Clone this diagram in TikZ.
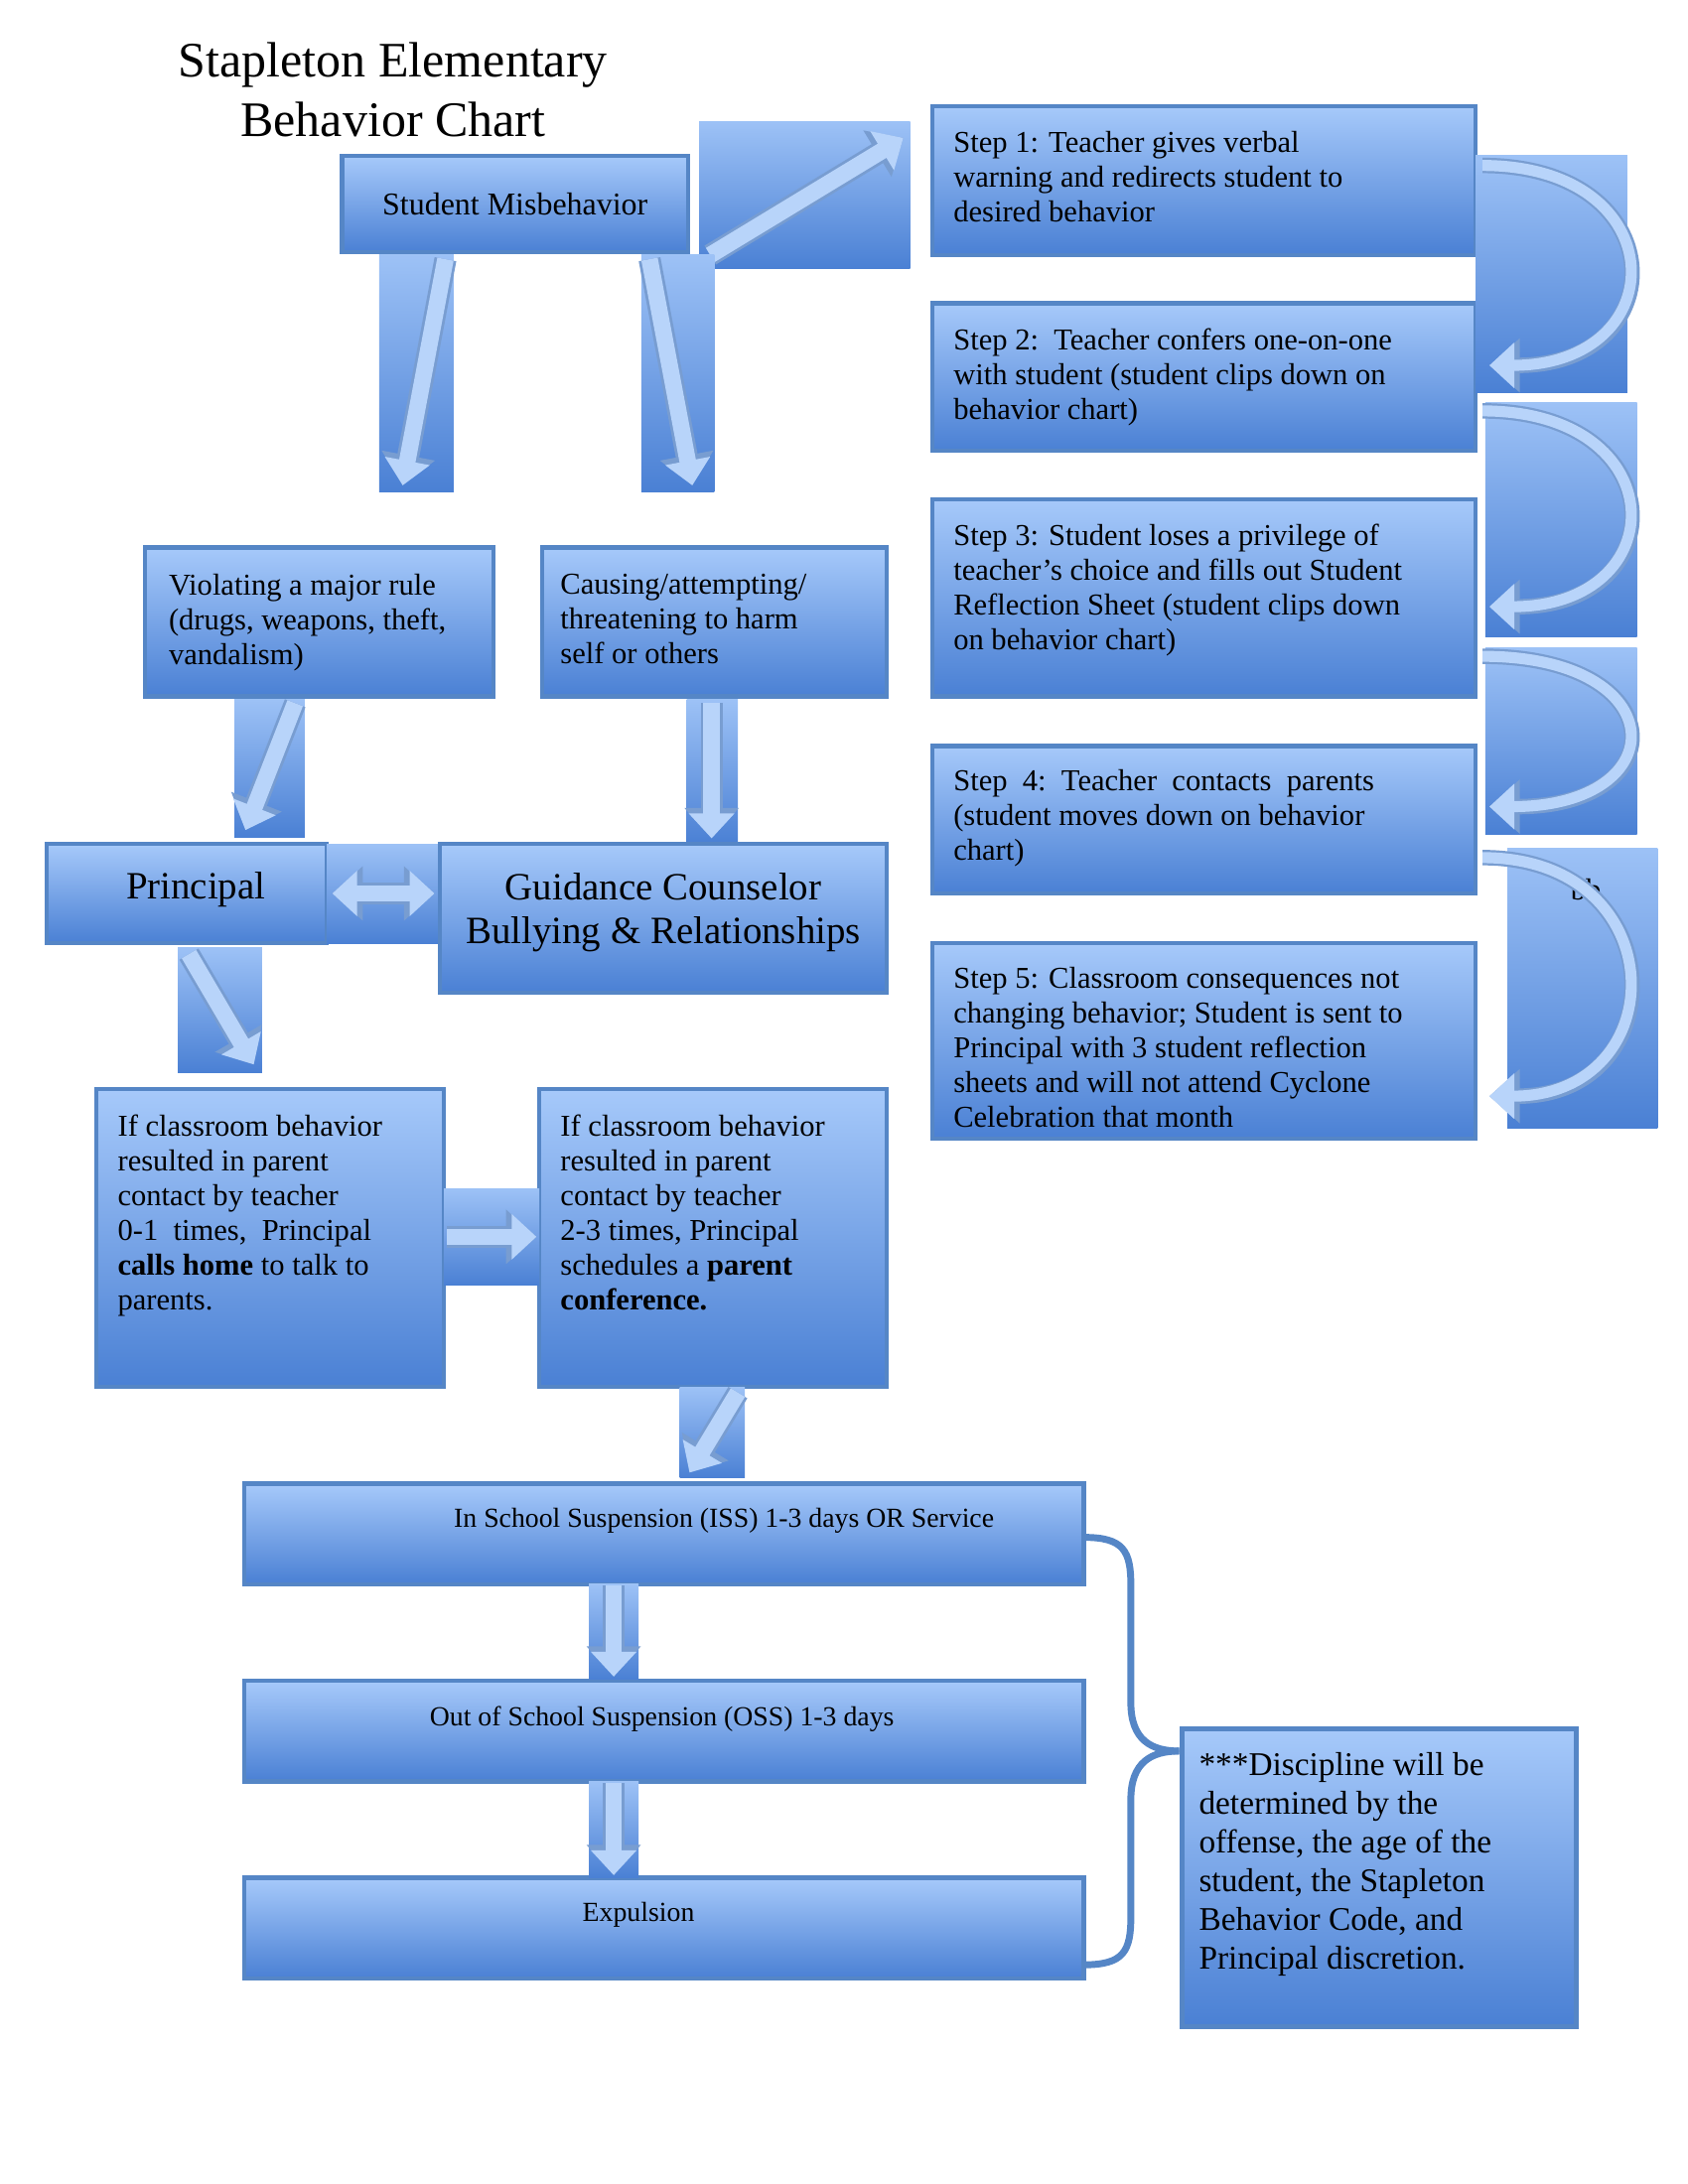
\documentclass[tikz,border=0pt]{standalone}
\usepackage{fontspec}
\setmainfont{Liberation Serif}
\usetikzlibrary{arrows.meta}
\definecolor{btop}{HTML}{A6C9FA}
\definecolor{bbot}{HTML}{4A80D4}
\definecolor{bline}{HTML}{5586C6}
\definecolor{glyph}{HTML}{B8D4FA}
\definecolor{glyphline}{HTML}{3E73BE}
\tikzset{
 box/.style={draw=bline,line width=1.6pt,top color=btop,bottom color=bbot,inner sep=0pt},
 blk/.style={top color=btop!90!bbot,bottom color=bbot,draw=none,inner sep=0pt},
 txt/.style={anchor=north west,inner sep=0pt,align=left,font=\fontsize{11}{12.6}\selectfont},
 garrow/.style={line width=6pt,draw=glyph,-{Triangle[length=9pt,width=16pt]}},
 garrowb/.style={line width=8pt,draw=glyphline!70,-{Triangle[length=11pt,width=19pt]}},
 curv/.style={line width=4pt,draw=glyph,-{Triangle[length=9pt,width=16pt]}},
 curvb/.style={line width=5.6pt,draw=glyphline!70,-{Triangle[length=11pt,width=19pt]}},
}
\newcommand\bx[6][box]{\node[#1,minimum width={(#5-#3)*0.5pt},minimum height={(#6-#4)*0.5pt}] (#2) at ({(#3+#5)/2},{(#4+#6)/2}) {};}
\newcommand\ga[2]{\draw[garrowb] (#1) -- (#2); \draw[garrow] (#1) -- (#2);}
\begin{document}
\begin{tikzpicture}[x=0.5pt,y=-0.5pt]
\useasboundingbox (0,0) rectangle (1224,1584);
\fill[white] (0,0) rectangle (1224,1584);
\node[align=center,font=\fontsize{18}{21.5}\selectfont] (title) at (285,65) {Stapleton Elementary\\Behavior Chart};
% main boxes
\bx{sm}{248}{113}{499}{183}
\node[font=\fontsize{11.5}{13}\selectfont] (smt) at (sm) {Student Misbehavior};
\bx[blk]{a0}{507}{88}{660}{195}
\coordinate (a0s) at (515,185); \coordinate (a0e) at (655,100);
\ga{a0s}{a0e}
\bx{s1}{676}{77}{1070}{185}
\bx{s2}{676}{220}{1070}{327}
\bx{s3}{676}{362}{1070}{505}
\bx{s4}{676}{541}{1070}{648}
\bx{s5}{676}{684}{1070}{826}
\node[txt] (s1t) at (691,95) {Step 1: Teacher gives verbal\\warning and redirects student to\\desired behavior};
\node[txt] (s2t) at (691,238) {Step 2:\ \ Teacher confers one-on-one\\with student (student clips down on\\behavior chart)};
\node[txt] (s3t) at (691,380) {Step 3: Student loses a privilege of\\teacher’s choice and fills out Student\\Reflection Sheet (student clips down\\on behavior chart)};
\node[txt] (s4t) at (691,558) {Step\ \ 4:\ \ Teacher\ \ contacts\ \ parents\\(student moves down on behavior\\chart)};
\node[txt] (s5t) at (691,701) {Step 5: Classroom consequences not\\changing behavior; Student is sent to\\Principal with 3 student reflection\\sheets and will not attend Cyclone\\Celebration that month};
% right curved blocks
\bx[blk]{c1}{1070}{113}{1180}{285}
\bx[blk]{c2}{1077}{292}{1187}{462}
\bx[blk]{c3}{1077}{470}{1187}{605}
\bx[blk]{c4}{1093}{615}{1202}{818}
\node[font=\fontsize{11}{13}\selectfont] (bb) at (1150,645) {bb};
\foreach \n/\ya/\yb in {c1/120/265,c2/298/440,c3/476/585,c4/622/795}{
 \coordinate (\n s) at (1075,\ya); \coordinate (\n e) at (1080,\yb);
 \draw[curvb] (\n s) .. controls (1215,\ya) and (1215,\yb) .. (\n e);
 \draw[curv] (\n s) .. controls (1215,\ya) and (1215,\yb) .. (\n e);
}
% down arrows from student misbehavior
\bx[blk]{d1}{275}{185}{329}{357}
\bx[blk]{d2}{465}{185}{518}{357}
\coordinate (d1s) at (323,188); \coordinate (d1e) at (292,352);
\coordinate (d2s) at (471,188); \coordinate (d2e) at (502,352);
\ga{d1s}{d1e} \ga{d2s}{d2e}
\bx{v}{105}{397}{358}{505}
\bx{g}{393}{397}{643}{505}
\node[txt] (vt) at (122,416) {Violating a major rule\\(drugs, weapons, theft,\\vandalism)};
\node[txt] (gt) at (406,416) {Causing/attempting/\\threatening to harm\\self or others};
\bx[blk]{d3}{170}{507}{221}{607}
\bx[blk]{d4}{498}{507}{535}{612}
\coordinate (d3s) at (214,510); \coordinate (d3e) at (178,602);
\coordinate (d4s) at (516,510); \coordinate (d4e) at (516,608);
\ga{d3s}{d3e} \ga{d4s}{d4e}
\bx{pr}{34}{612}{237}{684}
\node[font=\fontsize{14}{16}\selectfont] (prt) at (142,645) {Principal};
\bx[blk]{dd}{237}{612}{319}{684}
\coordinate (dda) at (241,648); \coordinate (ddb) at (315,648);
\draw[line width=8pt,draw=glyphline!70,{Triangle[length=11pt,width=19pt]}-{Triangle[length=11pt,width=19pt]}] (dda) -- (ddb);
\draw[line width=6pt,draw=glyph,{Triangle[length=9pt,width=16pt]}-{Triangle[length=9pt,width=16pt]}] (dda) -- (ddb);
\bx{gc}{319}{612}{643}{720}
\node[align=center,font=\fontsize{14}{16}\selectfont] (gct) at (481,662) {Guidance Counselor\\Bullying \& Relationships};
\bx[blk]{d5}{129}{687}{190}{778}
\coordinate (d5s) at (137,692); \coordinate (d5e) at (184,772);
\ga{d5s}{d5e}
\bx{i1}{70}{790}{322}{1006}
\bx{i2}{391}{790}{643}{1006}
\node[txt] (i1t) at (85,808) {If classroom behavior\\resulted in parent\\contact by teacher\\0-1\ \ times,\ \ Principal\\\textbf{calls home} to talk to\\parents.};
\node[txt] (i2t) at (406,808) {If classroom behavior\\resulted in parent\\contact by teacher\\2-3 times, Principal\\schedules a \textbf{parent}\\\textbf{conference.}};
\bx[blk]{r1}{322}{862}{391}{932}
\coordinate (r1s) at (324,897); \coordinate (r1e) at (389,897);
\ga{r1s}{r1e}
\bx[blk]{d6}{493}{1006}{540}{1072}
\coordinate (d6s) at (535,1010); \coordinate (d6e) at (500,1068);
\ga{d6s}{d6e}
\bx{iss}{177}{1076}{786}{1149}
\bx{oss}{177}{1219}{786}{1292}
\bx{ex}{177}{1362}{786}{1435}
\node[font=\fontsize{10}{12}\selectfont] (isst) at (525,1103) {In School Suspension (ISS) 1-3 days OR Service};
\node[font=\fontsize{10}{12}\selectfont] (osst) at (480,1247) {Out of School Suspension (OSS) 1-3 days};
\node[font=\fontsize{10}{12}\selectfont] (ext) at (463,1389) {Expulsion};
\bx[blk]{d7}{427}{1149}{463}{1218}
\bx[blk]{d8}{427}{1292}{463}{1362}
\coordinate (d7s) at (445,1150); \coordinate (d7e) at (445,1216);
\coordinate (d8s) at (445,1293); \coordinate (d8e) at (445,1360);
\ga{d7s}{d7e} \ga{d8s}{d8e}
\bx{dis}{857}{1254}{1143}{1470}
\node[txt,font=\fontsize{12}{14}\selectfont] (dist) at (869,1271) {***Discipline will be\\determined by the\\offense, the age of the\\student, the Stapleton\\Behavior Code, and\\Principal discretion.};
% brace
\coordinate (bt) at (786,1115); \coordinate (bb2) at (786,1425); \coordinate (bm) at (855,1270);
\draw[bline,line width=2.5pt] (bt) .. controls (815,1115) and (820,1125) .. (820,1150) -- (820,1235) .. controls (820,1262) and (835,1270) .. (bm);
\draw[bline,line width=2.5pt] (bb2) .. controls (815,1425) and (820,1415) .. (820,1390) -- (820,1305) .. controls (820,1278) and (835,1270) .. (bm);
\end{tikzpicture}
\end{document}
